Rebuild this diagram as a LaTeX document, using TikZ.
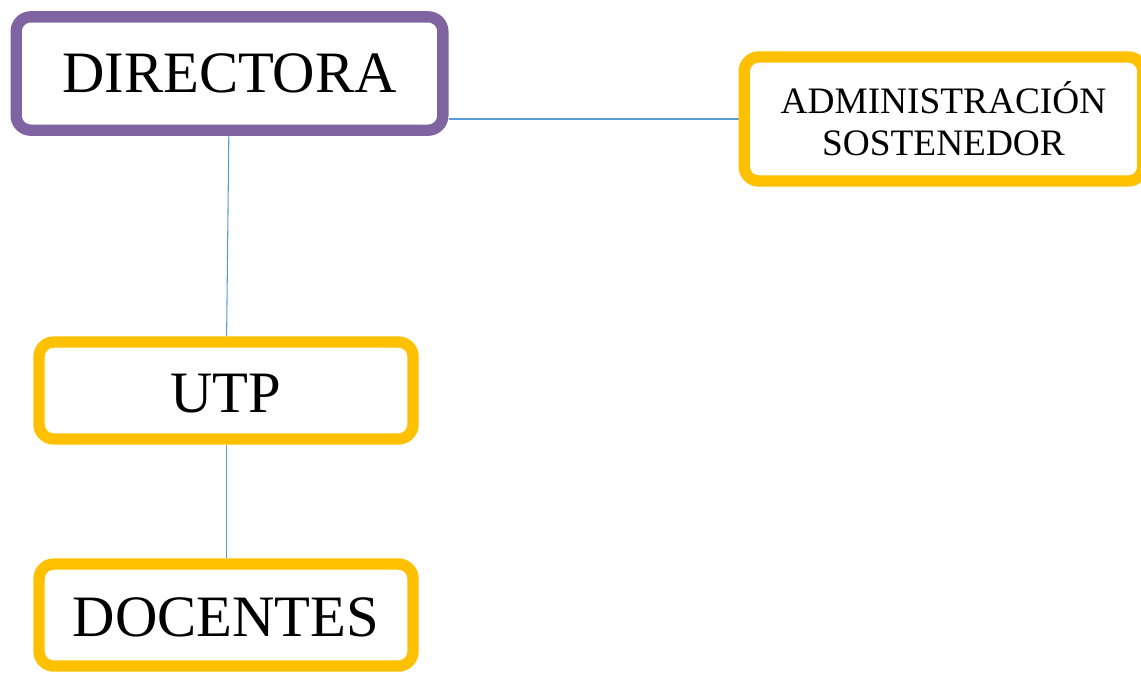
\documentclass[tikz,border=0pt]{standalone}
\usepackage{fontspec}
\setmainfont{Liberation Serif}
\tikzset{>=latex}
\usetikzlibrary{positioning,backgrounds}
\definecolor{lila}{HTML}{8064A2}
\definecolor{gelb}{HTML}{FFC000}
\definecolor{linie}{HTML}{5B9BD5}
\tikzset{
  kasten/.style={draw=gelb, line width=8.5pt, rounded corners=11pt, fill=white, align=center, inner sep=0pt},
  verbindung/.style={draw=linie, line width=0.8pt}
}

\begin{document}
\begin{tikzpicture}[x=0.75pt,y=-0.75pt]
      \useasboundingbox (0,0) rectangle (1141,672);
      \node[kasten, draw=lila, minimum width=320pt, minimum height=85pt, font=\fontsize{44}{50}\selectfont] (n0) at (229.5,73.5) {DIRECTORA};
      \node[kasten, minimum width=299pt, minimum height=93pt, font=\fontsize{28}{31.5}\selectfont] (n1) at (943.5,119) {ADMINISTRACIÓN\\SOSTENEDOR};
      \node[kasten, below of=n0, node distance=237.75pt, xshift=-2.6pt, minimum width=280.5pt, minimum height=72.75pt, text height=33pt, font=\fontsize{44}{50}\selectfont] (n2) {UTP};
      \node[kasten, below of=n2, node distance=168.4pt, minimum width=280.5pt, minimum height=76.5pt, text height=33pt, font=\fontsize{44}{50}\selectfont] (n3) {DOCENTES};
      \begin{scope}[on background layer]
        \draw[verbindung] (n1.west -| n0.east) -- (n1.west);
        \draw[verbindung] (n0) -- (n2);
        \draw[verbindung] (n2) -- (n3);
      \end{scope}
\end{tikzpicture}
\end{document}
